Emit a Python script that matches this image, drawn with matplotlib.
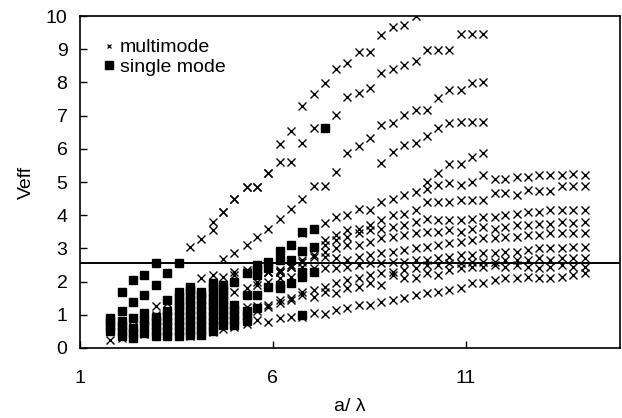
import matplotlib
matplotlib.use('Agg')
import matplotlib.pyplot as plt
import numpy as np

plt.rcParams['font.family'] = ['Liberation Sans', 'DejaVu Sans']

# a/lambda sample positions (columns of the scan)
a_lambda = [1.78, 2.08, 2.37, 2.65, 2.96, 3.25, 3.56, 3.84, 4.15, 4.44,
            4.72, 5.0, 5.32, 5.6, 5.88, 6.19, 6.48, 6.76, 7.07, 7.36,
            7.64, 7.93, 8.24, 8.52, 8.8, 9.11, 9.4, 9.71, 9.99, 10.28,
            10.56, 10.87, 11.16, 11.44, 11.75, 12.03, 12.32, 12.63, 12.91, 13.2,
            13.51, 13.79, 14.1]
cutoff = 2.56

# multimode branches: first column index + Veff values
mode_a_start = 7
mode_a = [3.04, 3.28, 3.8, 4.1, 4.5, 4.85, 4.85, 5.27, 6.14, 6.53, 7.3, 7.65, 7.98,
          8.42, 8.6, 8.93, 8.93, 9.43, 9.67, 9.73, 10.0]
mode_b_start = 9
mode_b = [3.55, 4.1, 4.5, 4.85, 4.85, 5.27, 5.6, 5.6, 6.17, 6.63, np.nan, 7.02, 7.56,
          7.68, 7.83, 8.28, 8.4, 8.52, 8.65, 8.98, 8.98, 8.98, 9.46, 9.46, 9.46]
mode_c_start = 10
mode_c = [2.68, 2.86, 3.1, 3.35, 3.6, 3.88, 4.2, 4.5, 4.88, 4.88, 5.3, 5.87, 6.08,
          6.32, 6.72, 6.78, 7.02, 7.17, 7.17, 7.53, 7.77, 7.77, 7.98, 8.0]
mode_d_start = 24
mode_d = [5.57, 5.9, 6.11, 6.17, 6.39, 6.63, 6.78, 6.81, 6.81, 6.81]
mode_e_start = 17
mode_e = [3.46, 3.6, 3.76, 3.95, 4.0, 4.2, 4.16, 4.4, 4.5, 4.6, 4.7, 5.0, 5.27,
          5.54, 5.54, 5.75, 5.87]
mode_l1_start = 0
mode_l1 = [0.24, 0.3, 0.39, 0.42, 0.42, 0.39, 0.36, 0.36, 0.42, 0.48,
           0.57, 0.63, 0.72, 0.84, 0.78, 0.9, 0.93, 0.93, 1.05, 1.02,
           1.14, 1.2, 1.3, 1.3, 1.39, 1.45, 1.5, 1.6, 1.66, 1.69,
           1.75, 1.8, 1.96, 1.96, 2.05, 2.1, 2.1, 2.15, 2.1, 2.12,
           2.15, 2.2, 2.25]
mode_l2_start = 0
mode_l2 = [0.6, 0.65, 0.6, 0.7, 0.75, 0.8, 0.85, 0.9, 0.85, 0.9,
           0.95, 1.0, 1.0, 1.1, 1.23, 1.35, 1.45, 1.6, 1.54, 1.69,
           1.66, 1.8, 1.84, 1.96, 1.9, 2.2, 2.1, 2.1, 2.25, 2.2,
           2.35, 2.4, 2.45, 2.45, 2.5, 2.45, 2.5, 2.45, 2.4, 2.45,
           2.5, 2.45, 2.45]
mode_l3_start = 2
mode_l3 = [0.85, 0.95, 1.0, 1.05, 1.1, 1.15, 1.1, 1.2,
           1.25, 1.3, 1.23, 1.26, 1.3, 1.45, 1.5, 1.69, 1.75, 1.85,
           1.95, 2.05, 2.1, 2.2, 2.25, 2.3, 2.35, 2.4, 2.5, 2.5,
           2.55, 2.55, 2.6, 2.6, 2.6, 2.65, 2.65, 2.65, 2.7, 2.65,
           2.7, 2.7, 2.7]
mode_l4_start = 4
mode_l4 = [1.26, 1.35, 1.4, 1.45, 1.5, 1.6,
           1.65, 1.7, 1.8, 1.9, 2.0, 2.1, 2.15, 2.3, 2.3, 2.4,
           2.4, 2.45, 2.5, 2.55, 2.55, 2.6, 2.6, 2.65, 2.65, 2.7,
           2.75, 2.8, 2.8, 2.85, 2.85, 2.9, 2.9, 2.95, 3.0, 3.0,
           3.0, 3.04, 3.04]
mode_l5_start = 8
mode_l5 = [2.1, 2.2,
           2.15, 2.2, 2.3, 2.35, 2.3, 2.3, 2.44, 2.44, 2.4, 2.74,
           2.7, 2.65, 2.75, 2.8, 2.85, 2.9, 2.95, 3.0, 3.04, 3.1,
           3.15, 3.2, 3.25, 3.3, 3.3, 3.35, 3.35, 3.4, 3.4, 3.45,
           3.45, 3.46, 3.46]
mode_l6_start = 11
mode_l6 = [2.3, 2.35, 2.0, 2.3, 2.3, 2.45, 2.6, 2.75, 2.9,
           3.0, 3.1, 3.1, 3.2, 3.3, 3.35, 3.4, 3.45, 3.5, 3.5,
           3.55, 3.5, 3.6, 3.65, 3.6, 3.65, 3.7, 3.7, 3.75, 3.75,
           3.8, 3.78, 3.8]
mode_l7_start = 14
mode_l7 = [2.3, 2.35, 2.5, 2.65, 2.8, 3.1,
           3.25, 3.35, 3.45, 3.55, 3.6, 3.65, 3.7, 3.8, 3.9, 3.85,
           3.85, 3.85, 3.9, 3.95, 3.95, 4.0, 4.05, 4.1, 4.1, 4.15,
           4.15, 4.16, 4.16]
mode_l8_start = 19
mode_l8 = [3.25, 3.4, 3.55, 3.6, 3.7, 3.85, 4.0, 4.05, 4.16, 4.4, 4.4,
           4.4, 4.46, 4.46, 4.46, 4.67, 4.67, 4.6, 4.76, 4.72, 4.72,
           4.88, 4.88, 4.88]
mode_l9_start = 28
mode_l9 = [4.8, 4.9, 4.97, 4.9, 5.0, 5.2, 5.1, 5.1, 5.15, 5.15, 5.2, 5.2, 5.2, 5.25, 5.21]

# single mode points, one list per column (columns 0..19)
single_mode = [
    [0.5, 0.65, 0.8, 0.9],
    [0.35, 0.5, 0.65, 0.8, 1.1, 1.7],
    [0.3, 0.45, 0.6, 0.9, 1.39, 2.05],
    [0.45, 0.7, 0.84, 1.05, 1.6, 2.2],
    [0.35, 0.5, 0.65, 0.8, 0.93, 1.9, 2.56],
    [0.35, 0.5, 0.65, 0.8, 0.95, 1.1, 1.45, 2.26],
    [0.35, 0.5, 0.65, 0.8, 0.95, 1.1, 1.25, 1.4, 1.55, 1.7, 2.56],
    [0.4, 0.55, 0.7, 0.85, 1.0, 1.15, 1.3, 1.45, 1.6, 1.75, 1.85],
    [0.4, 0.55, 0.7, 0.85, 1.0, 1.15, 1.3, 1.45, 1.6, 1.7],
    [0.5, 0.65, 0.8, 0.95, 1.1, 1.25, 1.4, 1.55, 1.7, 1.85, 1.95],
    [0.7, 0.85, 1.0, 1.15, 1.3, 1.45, 1.6, 1.75, 1.9],
    [0.7, 0.85, 1.0, 1.15, 1.3, 2.0],
    [0.8, 0.95, 1.1, 1.6, 2.26],
    [1.2, 1.6, 2.2, 2.35, 2.5],
    [1.84, 2.4, 2.6],
    [1.8, 1.9, 2.65, 2.92],
    [1.96, 2.65, 3.1],
    [1.0, 2.15, 2.3, 2.92, 3.5],
    [2.3, 3.04, 3.6],
    [6.63],
]

multimode = [(mode_a_start, mode_a), (mode_b_start, mode_b), (mode_c_start, mode_c),
             (mode_d_start, mode_d), (mode_e_start, mode_e),
             (mode_l1_start, mode_l1), (mode_l2_start, mode_l2), (mode_l3_start, mode_l3),
             (mode_l4_start, mode_l4), (mode_l5_start, mode_l5), (mode_l6_start, mode_l6),
             (mode_l7_start, mode_l7), (mode_l8_start, mode_l8), (mode_l9_start, mode_l9)]

fig = plt.figure(figsize=(6.22, 4.18), dpi=100)
ax = fig.add_axes([0.1286, 0.1675, 0.868, 0.794])

sx, sy = [], []
for i, col in enumerate(single_mode):
    sx += [a_lambda[i]] * len(col)
    sy += col
ax.plot(sx, sy, ls='', marker='s', ms=5.2, color='k', mec='k', label='single mode')

mx, my = [], []
for start, vals in multimode:
    mx += a_lambda[start:start + len(vals)]
    my += vals
ax.plot(mx, my, ls='', marker='x', ms=5.8, mew=1.0, color='k', label='multimode')

ax.axhline(cutoff, color='k', lw=1.4)

ax.set_xlim(1, 15)
ax.set_ylim(0, 10)
ax.set_xticks([1, 6, 11])
ax.set_yticks(range(0, 11))
ax.tick_params(axis='both', direction='in', length=5, width=1, labelsize=14)
ax.tick_params(axis='x', pad=16)
ax.tick_params(axis='y', pad=9)
for s in ax.spines.values():
    s.set_linewidth(1.2)

ax.set_xlabel('a/ λ', fontsize=14, labelpad=8)
ax.set_ylabel('Veff', fontsize=14, labelpad=8)

h, l = ax.get_legend_handles_labels()
leg = ax.legend(h[::-1], l[::-1], loc='upper left', bbox_to_anchor=(0.0, 0.99),
                frameon=False, fontsize=14, handletextpad=0.05, handlelength=1.0,
                labelspacing=0.1, borderaxespad=0.6)
leg.legend_handles[0].set_markersize(3.5)
leg.legend_handles[0].set_markeredgewidth(0.9)

fig.savefig('out.png', dpi=100)
